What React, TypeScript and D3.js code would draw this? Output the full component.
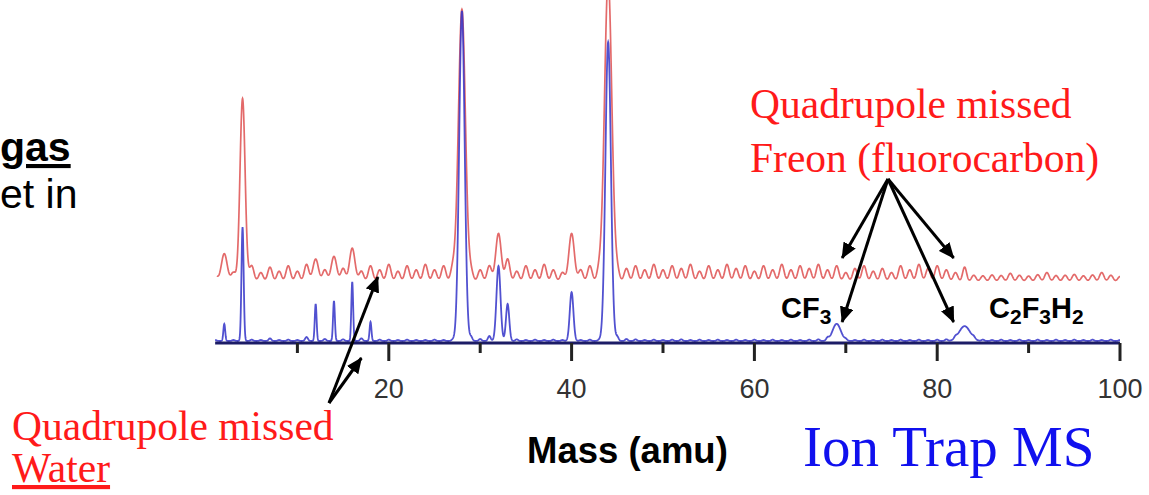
import React from 'react';
import * as d3 from 'd3';

const W = 1149;
const H = 495;

// Axis ticks (amu)
const tickValues = [10, 20, 30, 40, 50, 60, 70, 80, 90, 100];
const tickLabels = ['', '20', '', '40', '', '60', '', '80', '', '100'];

// Quadrupole (red) trace: main peaks (mass, relative intensity, peak width in amu)
const redPeakMass = [2, 4, 12, 14, 16, 28, 32, 33, 40, 44, 69, 83];
const redPeakHeight = [10.5, 68, 8.5, 9.5, 12.5, 101, 18, 8.5, 18, 112, 6, 5.5];
const redPeakWidth = [0.32, 0.28, 0.3, 0.3, 0.3, 0.38, 0.3, 0.25, 0.3, 0.4, 0.25, 0.22];
// Quadrupole background ripple at each integer mass 1..100
const redNoise = [
  2.5, 0, 3.5, 0, 6, 3.5, 5.5, 4, 6, 4,
  6.5, 0, 4.5, 0, 5, 0, 4, 6, 4.5, 6.5,
  4, 6, 4.5, 6.5, 4.5, 6, 5, 0, 3.5, 4.5,
  6, 0, 0, 4, 6, 4.5, 6.5, 4.5, 3.5, 0,
  4.5, 6, 4, 0, 3.5, 5, 6, 4.5, 6.5, 4.5,
  6, 5, 6.5, 4, 6, 4.5, 6.5, 5, 6, 4,
  6, 4.5, 6.5, 4.5, 6, 5, 6.5, 4.5, 0, 3.5,
  5, 6, 4, 5, 3.5, 6, 4.5, 6.5, 5, 6,
  4.5, 3.5, 0, 2.5, 2.3, 2.6, 2.4, 3.2, 2.5, 2.2,
  2.7, 3.5, 2.4, 2.5, 2.8, 2.3, 2.6, 3.5, 2.5, 2,
];

// Ion trap (blue) trace
const bluePeakMass = [2, 4, 12, 14, 16, 18, 28, 32, 33, 40, 44, 69, 83];
const bluePeakHeight = [5.2, 34.5, 11.2, 12.1, 17.9, 5.8, 100, 22.7, 11.2, 14.8, 90.6, 5.2, 4.5];
const bluePeakWidth = [0.1, 0.12, 0.1, 0.1, 0.1, 0.1, 0.3, 0.22, 0.18, 0.2, 0.3, 0.45, 0.6];
const blueNoise = [
  0.3, 0, 0.3, 0, 0.4, 0.3, 0.8, 0.3, 0.4, 0.3,
  1.2, 0, 0.6, 0, 0.5, 0, 0.8, 0, 0.4, 0.4,
  0.3, 0.4, 0.3, 0.3, 0.4, 0.3, 0.4, 0, 1.2, 0.6,
  1.5, 0, 0, 0.5, 0.3, 0.4, 0.3, 0.4, 0.3, 0,
  0.3, 0.4, 0.3, 0, 1.2, 0.6, 0.5, 0.3, 0.4, 0.3,
  0.4, 0.5, 0.3, 0.4, 0.3, 0.4, 0.3, 0.4, 0.3, 0.4,
  0.3, 0.4, 0.3, 0.4, 0.3, 0.4, 0.5, 0.8, 0, 0.4,
  0.3, 0.4, 0.3, 0.4, 0.3, 0.4, 0.3, 0.4, 0.3, 0.4,
  0.5, 0.6, 0, 0.5, 0.4, 0.3, 0.4, 0.3, 0.4, 0.3,
  0.4, 0.3, 0.4, 0.3, 0.4, 0.3, 0.4, 0.3, 0.4, 0.3,
];

const x = d3.scaleLinear().domain([0, 100]).range([206, 1120]);
const yRed = d3.scaleLinear().domain([0, 100]).range([282, 12]);
const yBlue = d3.scaleLinear().domain([0, 100]).range([341, 11]);

function intensity(m: number, pm: number[], ph: number[], pw: number[], noise: number[], nw: number) {
  let v = 0;
  for (let i = 0; i < pm.length; i++) {
    const d = (m - pm[i]) / pw[i];
    if (Math.abs(d) < 7) v += ph[i] * Math.exp(-0.5 * d * d);
  }
  for (let k = 0; k < noise.length; k++) {
    const d = (m - (k + 1)) / nw;
    if (Math.abs(d) < 7 && noise[k] > 0) v += noise[k] * Math.exp(-0.5 * d * d);
  }
  return v;
}

const redData = d3.range(1.2, 100.0001, 0.02).map((m) => ({ m, v: intensity(m, redPeakMass, redPeakHeight, redPeakWidth, redNoise, 0.25) }));
const blueData = d3.range(1.0, 100.0001, 0.02).map((m) => ({ m, v: intensity(m, bluePeakMass, bluePeakHeight, bluePeakWidth, blueNoise, 0.15) }));

const redLine = d3.line<{ m: number; v: number }>().x((d) => x(d.m)).y((d) => yRed(d.v));
const blueLine = d3.line<{ m: number; v: number }>().x((d) => x(d.m)).y((d) => yBlue(d.v));

const axisY = 343;

export default function App() {
  const sans = '"Liberation Sans", Arial, sans-serif';
  const serif = '"Liberation Serif", "Times New Roman", serif';
  const freonOrigin = [888, 179];
  const freonTips = [
    [x(69.6), 258],
    [x(69.6), 322],
    [x(81.8), 258],
    [x(81.8), 322],
  ];
  const waterOrigin = [329, 403];
  const waterTips = [
    [x(18.8), 277],
    [x(17), 358],
  ];
  return (
    <svg width={W} height={H} style={{ position: 'absolute', left: 0, top: 0, background: '#fff' }}>
      <defs>
        <marker id="ah" viewBox="0 0 16 14" refX="15" refY="7" markerWidth="16" markerHeight="14" markerUnits="userSpaceOnUse" orient="auto">
          <path d="M0,0 L16,7 L0,14 z" fill="#000" />
        </marker>
      </defs>

      {/* slide text cut at left */}
      <text x={0} y={161} fontFamily={sans} fontWeight="bold" fontSize={41} textDecoration="underline" fill="#000">gas</text>
      <text x={0} y={208} fontFamily={sans} fontSize={41} fill="#000">et in</text>

      {/* traces */}
      <path d={redLine(redData) || ''} fill="none" stroke="#e05a5a" strokeWidth={1.7} strokeOpacity={0.9} />
      <path d={blueLine(blueData) || ''} fill="none" stroke="#3232c8" strokeWidth={1.8} strokeOpacity={0.85} />

      {/* axis */}
      <line x1={x(1)} x2={x(100)} y1={axisY} y2={axisY} stroke="#1c1c66" strokeWidth={3} />
      {tickValues.map((t, i) => (
        <g key={t}>
          <line x1={x(t)} x2={x(t)} y1={axisY} y2={axisY + (tickLabels[i] ? 18 : 10)} stroke="#222" strokeWidth={3} />
          {tickLabels[i] && (
            <text x={x(t)} y={398} textAnchor="middle" fontFamily={sans} fontSize={27} fill="#333">{tickLabels[i]}</text>
          )}
        </g>
      ))}

      {/* species labels */}
      <text x={781} y={318} fontFamily={sans} fontWeight="bold" fontSize={29} fill="#000">
        CF<tspan fontSize={21} dy={6}>3</tspan>
      </text>
      <text x={989} y={318} fontFamily={sans} fontWeight="bold" fontSize={29} fill="#000">
        C<tspan fontSize={21} dy={6}>2</tspan><tspan dy={-6}>F</tspan><tspan fontSize={21} dy={6}>3</tspan><tspan dy={-6}>H</tspan><tspan fontSize={21} dy={6}>2</tspan>
      </text>

      {/* arrows */}
      {freonTips.map((p, i) => (
        <line key={'f' + i} x1={freonOrigin[0]} y1={freonOrigin[1]} x2={p[0]} y2={p[1]} stroke="#000" strokeWidth={3} markerEnd="url(#ah)" />
      ))}
      {waterTips.map((p, i) => (
        <line key={'w' + i} x1={waterOrigin[0]} y1={waterOrigin[1]} x2={p[0]} y2={p[1]} stroke="#000" strokeWidth={3} markerEnd="url(#ah)" />
      ))}

      {/* annotations */}
      <text x={750} y={118} fontFamily={serif} fontSize={41.5} fill="#ff1a1a">Quadrupole missed</text>
      <text x={750} y={172} fontFamily={serif} fontSize={41.5} fill="#ff1a1a">Freon (fluorocarbon)</text>
      <text x={12} y={440} fontFamily={serif} fontSize={41.5} fill="#ff1a1a">Quadrupole missed</text>
      <text x={12} y={482} fontFamily={serif} fontSize={41.5} fill="#ff1a1a" textDecoration="underline">Water</text>

      <text x={527} y={463} fontFamily={sans} fontWeight="bold" fontSize={36.5} fill="#000">Mass (amu)</text>
      <text x={803} y={466} fontFamily={serif} fontSize={57} fill="#1010ee">Ion Trap MS</text>
    </svg>
  );
}
